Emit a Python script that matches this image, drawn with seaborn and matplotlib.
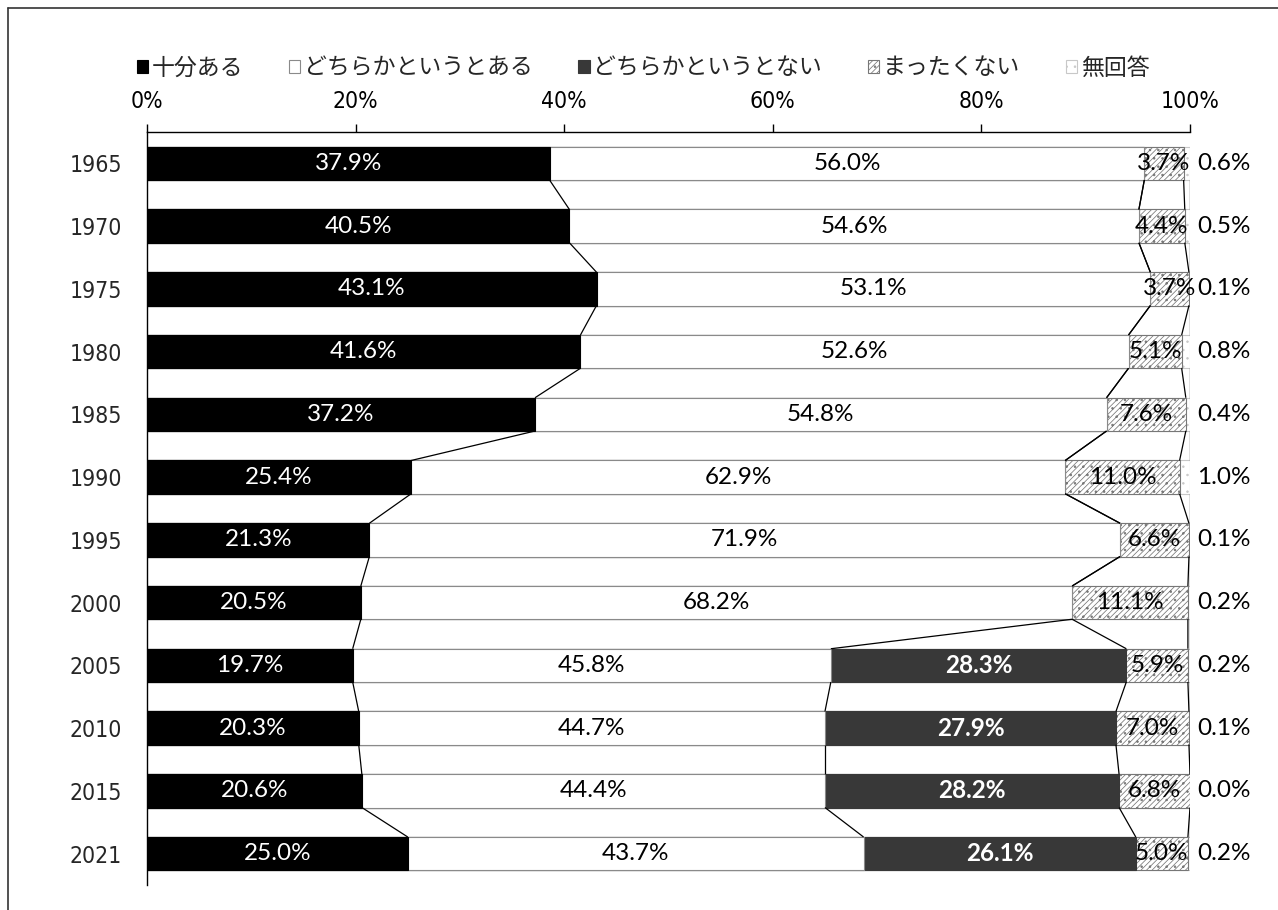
import numpy as np
import pandas as pd
import matplotlib
matplotlib.use("Agg")
import matplotlib.pyplot as plt
from matplotlib import font_manager
from matplotlib.patches import Patch
from matplotlib.lines import Line2D
import seaborn as sns

# ---- data -------------------------------------------------------------
years = ["1965", "1970", "1975", "1980", "1985", "1990",
         "1995", "2000", "2005", "2010", "2015", "2021"]
categories = ["十分ある", "どちらかというとある", "どちらかというとない",
              "まったくない", "無回答"]
enough = [37.9, 40.5, 43.1, 41.6, 37.2, 25.4, 21.3, 20.5, 19.7, 20.3, 20.6, 25.0]
rather_yes = [56.0, 54.6, 53.1, 52.6, 54.8, 62.9, 71.9, 68.2, 45.8, 44.7, 44.4, 43.7]
rather_no = [None, None, None, None, None, None, None, None, 28.3, 27.9, 28.2, 26.1]
not_at_all = [3.7, 4.4, 3.7, 5.1, 7.6, 11.0, 6.6, 11.1, 5.9, 7.0, 6.8, 5.0]
no_answer = [0.6, 0.5, 0.1, 0.8, 0.4, 1.0, 0.1, 0.2, 0.2, 0.1, 0.0, 0.2]

series = [enough, rather_yes, rather_no, not_at_all, no_answer]

# ---- styles per series -------------------------------------------------
face = ["#000000", "#ffffff", "#383838", "#ffffff", "#ffffff"]
edge = ["#000000", "#8a8a8a", "#383838", "#777777", "#c8c8c8"]
hatch = [None, None, "..", "//////..", ".."]
txt_color = ["white", "black", "white", "black", "black"]
txt_weight = ["normal", "normal", "bold", "normal", "normal"]

sns.set_style("white")
plt.rcParams["font.family"] = ["Lato", "Noto Sans CJK JP", "DejaVu Sans"]
plt.rcParams["hatch.linewidth"] = 0.55

# narrow face for the axis tick labels
available = {f.name for f in font_manager.fontManager.ttflist}
narrow_stretch = "normal"
if "Liberation Sans Narrow" in available:
    tick_family, tick_size = "Liberation Sans Narrow", 18
elif any(f.name == "DejaVu Sans" and "Condensed" in f.fname
         for f in font_manager.fontManager.ttflist):
    tick_family, tick_size, narrow_stretch = "DejaVu Sans", 16.5, "condensed"
else:
    tick_family, tick_size = "Liberation Sans", 17.5

# 100% stacked: normalise each year's row to its total
vals = np.array([[np.nan if v is None else v for v in s] for s in series], dtype=float)
filled = np.nan_to_num(vals)
totals = filled.sum(axis=0)
shares = filled / totals * 100.0
cum = np.cumsum(shares, axis=0)

fig = plt.figure(figsize=(12.78, 9.10), dpi=100)
W, H = 1278, 910
ax = fig.add_axes([147 / W, 1 - 885 / H, (1190 - 147) / W, (885 - 132) / H])

bar_h = 0.53
# draw cumulative layers from the widest to the narrowest
for k in range(len(series) - 1, -1, -1):
    df = pd.DataFrame({"year": years, "cum": cum[k]})
    sns.barplot(data=df, x="cum", y="year", orient="h", ax=ax,
                color=face[k], saturation=1, errorbar=None, width=bar_h,
                edgecolor=edge[k], linewidth=0.8, hatch=hatch[k])

# series lines joining segment ends of neighbouring bars
for k in range(len(series)):
    for i in range(len(years) - 1):
        ax.plot([cum[k][i], cum[k][i + 1]],
                [i + bar_h / 2, i + 1 - bar_h / 2],
                color="black", lw=0.9, solid_capstyle="butt", zorder=3)

# value labels
for k in range(len(series)):
    for i in range(len(years)):
        v = vals[k][i]
        if np.isnan(v):
            continue
        if k < len(series) - 1:
            start = cum[k - 1][i] if k > 0 else 0.0
            ax.text(start + shares[k][i] / 2, i, f"{v:.1f}%",
                    ha="center", va="center", fontsize=17.5,
                    color=txt_color[k], fontweight=txt_weight[k], zorder=4)
        else:
            ax.annotate(f"{v:.1f}%", xy=(100, i), xytext=(5, 0),
                        textcoords="offset points", ha="left", va="center",
                        fontsize=17.5, color="black", annotation_clip=False)

# axes
ax.set_xlim(0, 100)
ax.set_ylim(len(years) - 0.5, -0.5)
ax.set_xticks(range(0, 101, 20))
ax.set_xticklabels([f"{t}%" for t in range(0, 101, 20)])
ax.xaxis.tick_top()
ax.set_xlabel("")
ax.set_ylabel("")
ax.tick_params(axis="x", direction="out", length=6, width=1, pad=8,
               labelsize=tick_size, colors="black", top=True, bottom=False)
ax.tick_params(axis="y", length=0, pad=18, labelsize=tick_size)
for lab in ax.get_xticklabels() + ax.get_yticklabels():
    lab.set_family([tick_family, "DejaVu Sans"])
    lab.set_fontstretch(narrow_stretch)
for side in ["right", "bottom"]:
    ax.spines[side].set_visible(False)
for side in ["top", "left"]:
    ax.spines[side].set_color("black")
    ax.spines[side].set_linewidth(1)
ax.grid(False)

# legend
handles = [Patch(facecolor=face[k], edgecolor=edge[k] if k else "black",
                 hatch=hatch[k], linewidth=0.8) for k in range(len(series))]
fig.legend(handles, categories, loc="center", ncol=5, frameon=False,
           bbox_to_anchor=(643 / W, 1 - 68 / H),
           prop={"family": ["Noto Sans CJK JP"], "size": 16.5},
           handlelength=0.5, handleheight=0.5, handletextpad=0.15,
           columnspacing=2.0)

# chart frame
fig.add_artist(Line2D([8 / W, 8 / W], [0, 1 - 8 / H], color="#333333", lw=1.2))
fig.add_artist(Line2D([8 / W, 1], [1 - 8 / H, 1 - 8 / H], color="#333333", lw=1.2))

fig.savefig("out.png", dpi=100)
